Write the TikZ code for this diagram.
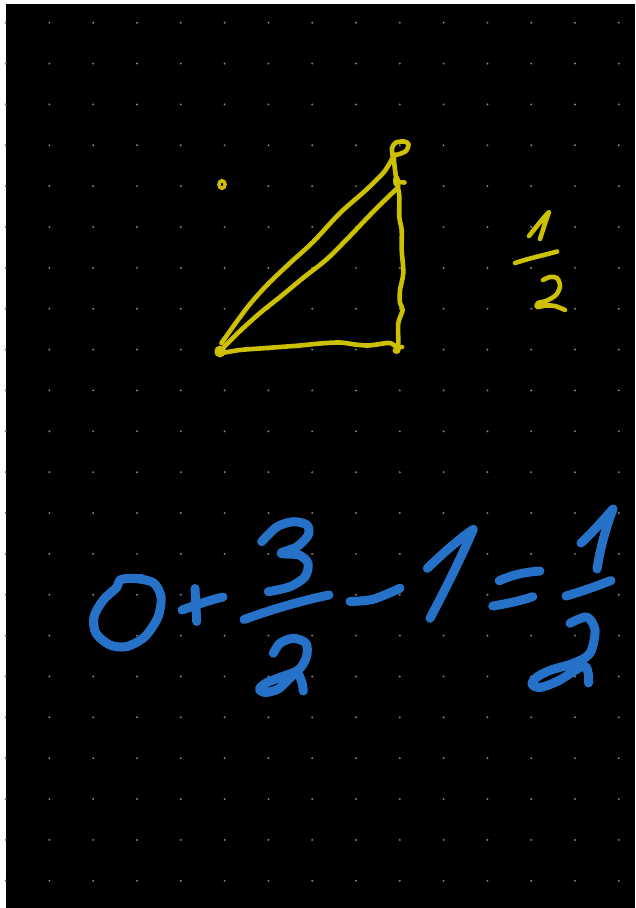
\documentclass[tikz,border=0pt]{standalone}
\usetikzlibrary{calc}
\definecolor{dotc}{RGB}{130,130,130}
\definecolor{ylw}{RGB}{205,192,0}
\definecolor{blu}{RGB}{38,114,200}
\begin{document}
\begin{tikzpicture}[x=1pt,y=-1pt,
  ystroke/.style={draw=ylw,line width=4.6pt,line cap=round,line join=round},
  bstroke/.style={draw=blu,line width=9pt,line cap=round,line join=round}]
\useasboundingbox (0,0) rectangle (635,908);
\fill[white] (0,0) rectangle (635,908);
\fill[black] (6,4) rectangle (635,908);
% dot grid
\foreach \i in {0,...,14}{
  \foreach \j in {0,...,21}{
    \fill[dotc] ({5.6+43.8*\i},{22.7+40.86*\j}) circle (1.1);
  }
}
% ---------- yellow triangle ----------
\draw[ystroke] plot[smooth] coordinates {(221.5,343) (235,324) (250,304) (268,284) (290,263) (313,242) (340,213) (366,190) (384,172) (393,157)};
\draw[ystroke] plot[smooth] coordinates {(224,347) (240,331) (260,313) (280,297) (303,278) (327,259) (350,236) (370,215) (385,200) (396.5,189)};
\draw[ystroke] plot[smooth] coordinates {(393,158) (392,148) (396,142.5) (404,141.5) (408.5,144) (406,151) (398,154.5) (394,156) (395,170) (397,183) (399.3,196) (399.3,217) (401.7,230) (401.7,250) (403.3,273) (400,290) (400,303) (402.7,310) (398.3,323) (398.3,343) (397,349)};
\draw[ystroke] plot[smooth] coordinates {(222,353) (240,350) (260,348.5) (280,347) (300,345.5) (320,343.5) (340,342.5) (355,344.5) (368,345.5) (380,344) (390,343) (397,347) (402,347)};
% knots and blobs
\fill[ylw] (396.5,181) ellipse (3.5 and 6);
\draw[ystroke] (396,182) -- (404.5,182.5);
\fill[ylw] (220,351.5) ellipse (5.5 and 6);
\fill[ylw] (396.5,350.5) ellipse (4 and 3.5);
\draw[ylw,line width=3.5pt] (222,184.5) ellipse (3 and 3.8);
% yellow 1/2
\draw[ystroke] (529,236) .. controls (537,226) and (543,218) .. (549,212) .. controls (546,220) and (543,230) .. (540,239);
\draw[ystroke] (515,263) .. controls (530,258) and (545,255) .. (557,251.5);
\draw[ystroke] plot[smooth] coordinates {(543,280) (550,277) (557,278) (560,286) (556,295) (546,301) (538,303) (537,307) (546,305.5) (555,306) (565,310)};
% ---------- blue equation ----------
% 0
\draw[bstroke] plot[smooth cycle] coordinates {(120,580) (133.3,578.3) (153.3,582.7) (161,597) (158,617) (145,636.5) (127,646.5) (110,645) (96,633.3) (94,616.7) (103.3,600) (117,587)};
\draw[bstroke] (126.7,578.3) -- (141.7,578.3);
% +
\draw[bstroke] (182,610) .. controls (196,605) and (210,600) .. (223,597);
\draw[bstroke] (195,588.5) -- (196.7,621.5);
% 3
\draw[bstroke] plot[smooth] coordinates {(261.7,541.7) (276.7,527) (293.3,521.7) (307,525) (308.3,535) (297,546.7) (281,553.3) (299,555) (308,563.3) (305,576.7) (290,586.7) (268.3,591.7)};
% fraction bar
\draw[bstroke] (244,619.5) .. controls (270,610) and (300,601) .. (329,595);
% 2
\draw[bstroke] plot[smooth] coordinates {(273.3,653.3) (280,643.3) (293.3,638.3) (306,643.3) (306.5,656.7) (298.3,670) (281,677) (266,683) (259.5,689) (265,692.5) (279,688.5) (296,673) (301.7,682) (303.3,691)};
% minus
\draw[bstroke] plot[smooth] coordinates {(350,601.5) (373,599.3) (400,588.3)};
% 1
\draw[bstroke] (427.3,568.3) .. controls (440,556) and (460,538) .. (473.3,529.3) .. controls (460,560) and (445,590) .. (430,618.3);
% =
\draw[bstroke] (499.3,580.7) .. controls (512,575) and (525,572) .. (540,571);
\draw[bstroke] (492.7,606) .. controls (505,604) and (520,601) .. (532.7,596.7);
% 1 (right)
\draw[bstroke] (581,543) .. controls (592,533) and (605,518) .. (613,509) .. controls (605,530) and (600,550) .. (597,569);
% fraction bar
\draw[bstroke] (566,596) .. controls (580,592) and (597,586) .. (611,580.5);
% 2 (right)
\draw[bstroke] plot[smooth] coordinates {(570,623.3) (586.7,617) (595,630) (590,653.3) (573.3,663.3) (551,670) (537,677) (532,684) (540,687.5) (558,681) (583.3,666) (588.3,674) (588.5,683)};
\end{tikzpicture}
\end{document}
